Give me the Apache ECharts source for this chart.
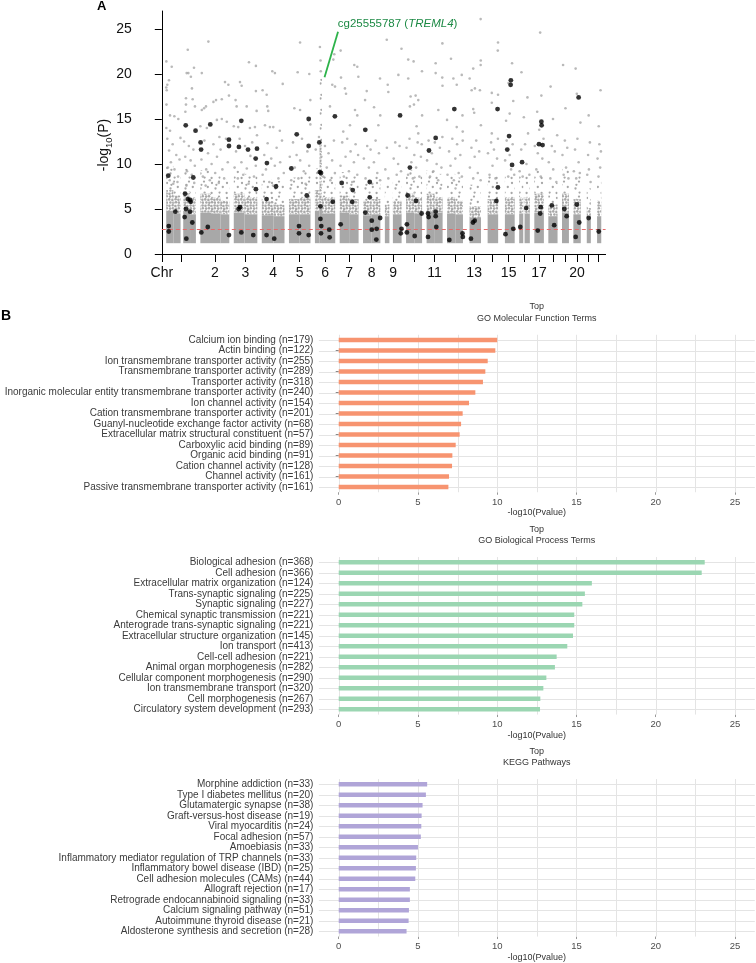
<!DOCTYPE html>
<html>
<head>
<meta charset="utf-8">
<script src="https://cdn.jsdelivr.net/npm/echarts@6/dist/echarts.min.js"></script>
<style>
  html, body { margin: 0; padding: 0; background: #fff; }
  #chart { width: 756px; height: 963px; }
</style>
</head>
<body>
<div id="chart"></div>
<script>
// ---- panel A: manhattan plot ----
// hg19 autosome lengths (Mb)
const chrLengths = [249.25, 243.2, 198.0, 191.15, 180.9, 171.1, 159.1, 146.4, 141.2, 135.5, 135.0,
  133.85, 115.2, 107.35, 102.5, 90.35, 81.2, 78.1, 59.1, 63.0, 48.1, 51.3];
const chrTickText = ['', '2', '3', '4', '5', '6', '7', '8', '9', '', '11', '', '13', '', '15', '', '17', '', '', '20', '', ''];
const chrGap = 36;
const yTicks = [0, 5, 10, 15, 20, 25];
const pFloor = 1.2;
const fdrCut = 2.75;

// dense cloud of probes: [chr, fromMb, toMb, solidTop, denseTop, sparseTop]
const denseBands = [
  [1, 1, 60, 4.8, 7.1, 9.8], [1, 60, 121, 4.5, 6.5, 8.9], [1, 143, 200, 4.8, 6.9, 9.5], [1, 200, 249, 4.4, 6.3, 8.7],
  [2, 1, 90, 4.6, 6.7, 9.3], [2, 90, 170, 4.5, 6.3, 8.7], [2, 170, 243, 4.4, 5.9, 8.3],
  [3, 1, 90, 4.6, 6.7, 9.3], [3, 90, 198, 4.4, 6.3, 8.9],
  [4, 1, 100, 4.3, 5.9, 8.3], [4, 100, 191, 4.2, 5.5, 8.1],
  [5, 1, 90, 4.4, 6.1, 8.5], [5, 90, 181, 4.4, 6.3, 9.1],
  [6, 1, 40, 4.8, 7.1, 9.5], [6, 40, 60, 5.2, 12.5, 19.5], [6, 60, 171, 4.5, 6.3, 8.9],
  [7, 1, 80, 4.6, 6.5, 9.1], [7, 80, 159, 4.4, 6.1, 8.7],
  [8, 1, 70, 4.3, 5.9, 8.3], [8, 70, 146, 4.4, 6.1, 8.7],
  [9, 1, 39, 4.2, 5.5, 7.9], [9, 68, 141, 4.4, 5.9, 8.3],
  [10, 1, 70, 4.6, 6.7, 9.3], [10, 70, 135, 4.5, 6.3, 8.9],
  [11, 1, 70, 4.7, 6.7, 9.3], [11, 70, 135, 4.6, 6.3, 8.9],
  [12, 1, 70, 4.5, 6.3, 8.9], [12, 70, 134, 4.4, 5.9, 8.5],
  [13, 19, 115, 4.0, 5.3, 7.7],
  [14, 19, 107, 4.4, 6.1, 8.7],
  [15, 20, 102, 4.4, 6.3, 8.9],
  [16, 1, 35, 4.5, 6.3, 8.7], [16, 46, 90, 4.5, 6.3, 8.9],
  [17, 1, 81, 4.6, 6.7, 9.3],
  [18, 1, 78, 4.2, 5.5, 7.9],
  [19, 1, 59, 4.6, 6.7, 9.5],
  [20, 1, 63, 4.4, 6.1, 8.7],
  [21, 14, 48, 3.8, 5.1, 7.3],
  [22, 16, 51, 4.2, 5.9, 8.3]
];

// scattered probes above the cloud: [chr, posMb, -log10 P]
const grayHits = [
  [1,2,21.4],[1,47,20.8],[1,172,20.1],[1,186,20.1],[1,233,20.7],[1,181,22.7],[1,24,19.3],[1,1,18.5],[1,5,18.2],[1,10,18.8],
  [1,207,19.7],[1,216,18.4],[1,3,16.6],[1,166,17.3],[1,166,16.6],[1,161,15.8],[1,222,17.2],[1,241,16.4],[1,69,15.3],[1,33,15.4],
  [1,102,15.0],[1,2,14.0],[1,33,13.7],[1,10,12.8],[1,25,11.5],[1,40,10.2],[1,55,12.2],[1,70,9.4],[1,85,11.0],[1,100,8.6],
  [1,112,10.5],[1,150,12.5],[1,160,10.8],[1,175,9.2],[1,190,12.0],[1,205,10.4],[1,215,8.8],[1,228,11.6],[1,240,9.8],[1,30,8.2],
  [1,60,7.8],[1,95,8.0],[1,170,7.6],[1,235,7.9],[1,15,9.6],[1,120,12.9],
  [2,68,23.6],[2,13,20.1],[2,207,19.1],[2,235,18.8],[2,13,16.0],[2,32,16.2],[2,48,16.4],[2,110,16.9],[2,132,17.1],[2,180,17.2],
  [2,240,17.6],[2,1,14.2],[2,55,14.0],[2,139,14.9],[2,180,15.0],[2,222,14.7],[2,10,10.5],[2,22,8.6],[2,35,12.6],[2,50,9.4],
  [2,65,11.2],[2,80,8.2],[2,95,10.0],[2,110,12.2],[2,125,9.0],[2,140,10.8],[2,155,7.9],[2,170,11.6],[2,185,9.4],[2,200,8.4],
  [2,215,12.8],[2,230,10.2],[2,45,7.6],[2,160,13.0],
  [3,128,21.3],[3,186,20.9],[3,53,19.1],[3,67,18.7],[3,186,18.1],[3,16,17.1],[3,25,16.4],[3,109,16.4],[3,192,15.9],[3,1,14.2],
  [3,38,14.1],[3,136,14.0],[3,178,14.1],[3,8,9.6],[3,20,11.4],[3,35,8.4],[3,50,12.8],[3,65,10.2],[3,80,8.8],[3,95,12.0],
  [3,110,9.5],[3,125,7.8],[3,140,10.9],[3,155,12.4],[3,170,8.6],[3,185,9.8],[3,195,13.2],
  [4,89,20.3],[4,111,20.1],[4,8,18.2],[4,42,17.7],[4,47,16.4],[4,55,15.9],[4,28,14.3],[4,69,14.1],[4,176,18.9],[4,97,14.1],
  [4,152,13.7],[4,8,8.8],[4,22,11.0],[4,36,9.4],[4,50,12.3],[4,64,8.0],[4,80,10.6],[4,95,7.6],[4,110,9.8],[4,125,11.8],
  [4,140,8.4],[4,155,10.2],[4,170,12.6],[4,185,9.0],
  [5,94,23.5],[5,74,20.2],[5,171,20.0],[5,46,16.2],[5,94,16.0],[5,180,17.1],[5,180,14.4],[5,8,10.8],[5,20,8.2],[5,35,12.4],
  [5,50,9.6],[5,65,11.0],[5,80,8.4],[5,95,10.4],[5,110,12.8],[5,125,9.2],[5,140,7.8],[5,155,11.4],[5,170,9.8],
  [6,43,23.0],[6,163,22.2],[6,155,21.6],[6,146,18.8],[6,169,18.6],[6,127,16.4],[6,8,11.6],[6,20,9.0],[6,35,13.0],[6,48,21.5],
  [6,50,20.3],[6,55,10.8],[6,70,8.6],[6,85,12.0],[6,100,9.6],[6,115,11.2],[6,130,8.2],[6,145,10.4],[6,160,12.6],[6,168,9.0],
  [7,9,22.6],[7,123,21.0],[7,148,20.8],[7,12,19.6],[7,157,19.7],[7,45,18.4],[7,54,17.8],[7,129,16.0],[7,148,15.4],[7,31,13.6],
  [7,87,14.3],[7,8,9.8],[7,22,12.4],[7,36,8.6],[7,50,10.8],[7,64,12.8],[7,78,9.2],[7,92,11.4],[7,106,8.0],[7,120,10.2],
  [7,134,12.2],[7,148,8.8],[7,155,11.0],
  [8,143,19.5],[8,32,18.1],[8,18,17.1],[8,93,16.3],[8,145,15.4],[8,129,14.3],[8,8,10.6],[8,22,8.4],[8,36,12.0],[8,50,9.6],
  [8,64,11.6],[8,78,7.8],[8,92,10.2],[8,106,12.6],[8,120,9.0],[8,134,11.2],[8,144,8.2],
  [9,17,23.8],[9,140,22.8],[9,25,18.8],[9,114,19.9],[9,30,18.0],[9,5,9.4],[9,18,11.8],[9,30,8.4],[9,75,10.6],[9,88,12.4],
  [9,100,8.8],[9,112,10.0],[9,124,12.0],[9,136,9.2],
  [10,19,21.6],[10,64,21.4],[10,19,19.5],[10,134,20.3],[10,39,17.5],[10,81,17.6],[10,33,16.4],[10,67,16.6],[10,103,17.1],[10,135,15.4],
  [10,89,14.2],[10,103,13.4],[10,5,11.8],[10,18,8.8],[10,30,12.8],[10,45,10.2],[10,58,8.4],[10,70,11.0],[10,85,9.6],[10,98,12.4],
  [10,112,8.6],[10,125,10.8],[10,132,12.2],
  [11,133,23.4],[11,77,21.2],[11,77,20.1],[11,132,19.6],[11,134,18.7],[11,99,16.0],[11,5,10.4],[11,18,12.6],[11,30,8.6],[11,45,11.2],
  [11,58,9.2],[11,70,12.4],[11,85,10.0],[11,98,8.2],[11,112,11.8],[11,125,9.6],[11,133,13.0],
  [12,34,21.7],[12,54,19.5],[12,124,19.9],[12,82,18.8],[12,1,14.9],[12,130,15.4],[12,82,14.1],[12,132,13.6],[12,5,8.8],[12,18,11.4],
  [12,30,9.8],[12,45,12.8],[12,58,8.2],[12,70,10.6],[12,85,12.2],[12,98,9.0],[12,112,11.0],[12,125,8.6],[12,132,12.6],
  [13,112,26.1],[13,113,21.5],[13,50,20.6],[13,112,21.0],[13,20,19.5],[13,37,18.2],[13,64,18.4],[13,106,18.2],[13,50,16.1],[13,58,15.7],
  [13,114,14.3],[13,22,9.6],[13,35,11.8],[13,50,8.4],[13,62,10.8],[13,75,12.6],[13,88,9.0],[13,100,11.4],[13,112,8.2],
  [14,106,23.5],[14,104,22.6],[14,54,17.9],[14,106,17.7],[14,54,16.8],[14,54,13.4],[14,22,11.2],[14,35,8.8],[14,48,12.4],[14,60,9.8],
  [14,72,11.6],[14,85,8.4],[14,98,10.6],[14,105,12.8],
  [15,22,10.4],[15,35,12.6],[15,48,8.6],[15,60,11.0],[15,72,9.4],[15,85,12.2],[15,98,8.8],[15,30,14.8],[15,60,15.6],[15,90,17.0],
  [15,50,19.0],[15,80,21.2],
  [16,5,9.2],[16,18,11.6],[16,30,8.6],[16,50,12.2],[16,62,10.0],[16,75,13.4],[16,86,8.8],[16,40,15.2],[16,70,17.4],[16,20,20.2],
  [17,5,12.0],[17,18,9.4],[17,30,11.2],[17,42,13.8],[17,55,8.6],[17,68,10.6],[17,78,12.8],[17,25,15.8],[17,60,17.6],[17,50,24.6],
  [18,5,10.2],[18,18,8.4],[18,30,12.0],[18,42,9.4],[18,55,11.4],[18,68,8.0],[18,75,13.2],[18,40,15.0],[18,20,18.6],
  [19,5,11.0],[19,15,8.8],[19,25,12.6],[19,35,9.6],[19,45,11.8],[19,55,8.4],[19,30,16.2],[19,10,21.0],
  [20,5,9.2],[20,15,11.6],[20,25,8.4],[20,35,12.8],[20,45,10.2],[20,55,9.0],[20,60,14.6],[20,30,17.8],[20,20,20.6],
  [21,18,8.8],[21,25,11.0],[21,32,9.4],[21,40,12.4],[21,46,8.0],[21,30,15.4],
  [22,20,10.6],[22,28,8.6],[22,35,12.2],[22,42,9.6],[22,48,11.4],[22,30,14.2],[22,45,18.2]
];

// highlighted (black) probes: [chr, posMb, -log10 P]
const sigHits = [
  [1,18,8.7],[1,77,4.7],[1,22,3.1],[1,22,2.5],[1,158,6.7],[1,181,6.1],[1,200,6.0],[1,206,5.8],[1,166,5.0],[1,200,4.7],
  [1,155,4.1],[1,219,3.5],[1,169,1.7],[1,227,8.5],[1,246,13.7],[1,164,14.3],
  [2,3,12.4],[2,7,11.6],[2,9,2.4],[2,63,3.0],[2,84,14.4],[2,240,12.7],[2,240,12.0],[2,240,2.1],
  [3,44,11.9],[3,42,5.0],[3,53,5.2],[3,64,2.4],[3,64,14.8],[3,120,11.6],[3,164,2.1],[3,184,10.6],[3,186,7.2],[3,195,11.7],
  [4,41,6.1],[4,41,2.1],[4,44,10.1],[4,105,1.7],[4,120,7.5],
  [5,21,9.5],[5,66,13.3],[5,85,3.1],[5,85,2.3],[5,150,6.5],[5,166,12.0],[5,166,15.0],[5,166,2.1],
  [6,38,12.4],[6,42,9.1],[6,52,9.0],[6,47,5.3],[6,47,3.9],[6,54,3.1],[6,52,2.3],[6,121,2.7],[6,124,1.85],[6,150,5.8],[6,168,15.3],
  [7,18,7.9],[7,9,3.3],[7,110,7.1],[7,106,5.8],
  [8,20,13.8],[8,57,8.0],[8,57,6.3],[8,20,4.6],[8,74,3.7],[8,74,2.7],[8,115,2.8],[8,112,1.6],[8,144,4.0],
  [9,128,15.4],[9,134,2.3],[9,140,2.8],
  [10,8,3.3],[10,8,2.4],[10,14,6.5],[10,33,9.6],[10,84,5.9],[10,73,2.0],[10,131,4.5],
  [11,13,4.5],[11,18,4.1],[11,13,1.9],[11,21,11.5],[11,77,4.7],[11,77,4.2],[11,82,3.0],[11,77,12.9],
  [12,20,1.56],[12,62,16.1],[12,130,2.3],[12,133,1.9],
  [13,31,1.7],[13,48,3.5],[13,62,3.7],
  [14,92,5.9],[14,105,7.4],[14,102,16.1],
  [15,70,19.3],[15,68,18.8],[15,40,11.6],[15,80,9.9],[15,55,13.1],[15,25,2.2],[15,90,2.8],
  [16,25,10.2],[16,60,5.1],[16,10,3.0],
  [17,60,14.7],[17,62,14.3],[17,40,12.2],[17,70,12.1],[17,55,5.2],[17,50,4.5],[17,30,2.6],
  [18,30,5.4],[18,50,3.2],
  [19,20,5.0],[19,40,4.2],
  [20,45,17.4],[20,30,5.5],[20,50,3.5],[20,20,1.9],
  [21,30,4.0],
  [22,30,2.5]
];
const topHit = [6, 48, 19.3];
const topHitText = 'cg25555787 ({it|TREML4})';

// ---- panel B: enrichment bars ----
const xTicks = [0, 5, 10, 15, 20, 25];
const xGridSteps = [0, 2.5, 5, 7.5, 10, 12.5, 15, 17.5, 20, 22.5, 25];
const mfTerms = ['Calcium ion binding (n=179)', 'Actin binding (n=122)', 'Ion transmembrane transporter activity (n=255)',
  'Transmembrane transporter activity (n=289)', 'Transporter activity (n=318)',
  'Inorganic molecular entity transmembrane transporter activity (n=240)', 'Ion channel activity (n=154)',
  'Cation transmembrane transporter activity (n=201)', 'Guanyl-nucleotide exchange factor activity (n=68)',
  'Extracellular matrix structural constituent (n=57)', 'Carboxylic acid binding (n=89)', 'Organic acid binding (n=91)',
  'Cation channel activity (n=128)', 'Channel activity (n=161)', 'Passive transmembrane transporter activity (n=161)'];
const mfValues = [10.0, 9.88, 9.40, 9.25, 9.10, 8.62, 8.22, 7.82, 7.72, 7.63, 7.38, 7.17, 7.15, 6.96, 6.92];
const bpTerms = ['Biological adhesion (n=368)', 'Cell adhesion (n=366)', 'Extracellular matrix organization (n=124)',
  'Trans-synaptic signaling (n=225)', 'Synaptic signaling (n=227)', 'Chemical synaptic transmission (n=221)',
  'Anterograde trans-synaptic signaling (n=221)', 'Extracellular structure organization (n=145)', 'Ion transport (n=413)',
  'Cell-cell adhesion (n=221)', 'Animal organ morphogenesis (n=282)', 'Cellular component morphogenesis (n=290)',
  'Ion transmembrane transport (n=320)', 'Cell morphogenesis (n=267)', 'Circulatory system development (n=293)'];
const bpValues = [23.09, 22.90, 15.97, 15.53, 15.37, 14.86, 14.86, 14.78, 14.42, 13.75, 13.64, 13.10, 12.91, 12.72, 12.70];
const keggTerms = ['Morphine addiction (n=33)', 'Type I diabetes mellitus (n=20)', 'Glutamatergic synapse (n=38)',
  'Graft-versus-host disease (n=19)', 'Viral myocarditis (n=24)', 'Focal adhesion (n=57)', 'Amoebiasis (n=33)',
  'Inflammatory mediator regulation of TRP channels (n=33)', 'Inflammatory bowel disease (IBD) (n=25)',
  'Cell adhesion molecules (CAMs) (n=44)', 'Allograft rejection (n=17)', 'Retrograde endocannabinoid signaling (n=33)',
  'Calcium signaling pathway (n=51)', 'Autoimmune thyroid disease (n=21)', 'Aldosterone synthesis and secretion (n=28)'];
const keggValues = [5.58, 5.50, 5.29, 5.23, 5.21, 5.18, 5.00, 4.89, 4.87, 4.83, 4.49, 4.49, 4.43, 4.41, 4.28];

const font = 'Liberation Sans, Arial, Helvetica, sans-serif';
const dotGray = '#a8a8a8';
const gridGray = '#e4e4e4';

// cumulative genome coordinates
const chrStart = [];
let acc = chrGap;
chrLengths.forEach(len => { chrStart.push(acc); acc += len + chrGap; });
const genomeEnd = acc;
const chrMid = chrStart.map((s, i) => s + chrLengths[i] / 2);
const gpos = (chr, pos) => chrStart[chr - 1] + pos;

const pxPerMb = 0.11966;
const chrLabelValues = [0].concat(chrMid.filter((m, i) => chrTickText[i] !== ''));

// speckle textures so the crowded part reads as a cloud of dots
function dotTile(w, h, r, dots) {
  const c = document.createElement('canvas');
  c.width = w; c.height = h;
  const ctx = c.getContext('2d');
  ctx.fillStyle = dotGray;
  dots.forEach(d => { ctx.beginPath(); ctx.arc(d[0], d[1], r, 0, Math.PI * 2); ctx.fill(); });
  return { image: c, repeat: 'repeat' };
}
const denseSpeckle = dotTile(12, 12, 1.3, [
  [1.5, 1.8], [4.8, 1.3], [7.4, 2.0], [10.6, 1.5],
  [2.1, 4.6], [5.0, 4.2], [8.2, 4.9], [10.9, 4.3],
  [1.3, 7.4], [4.4, 7.9], [7.6, 7.2], [10.4, 7.8],
  [2.4, 10.5], [5.3, 10.7], [8.0, 10.2], [10.9, 10.6]
]);
const sparseSpeckle = dotTile(15, 15, 1.15, [
  [2, 3], [9, 1.6], [12.8, 7], [5.5, 8.5], [1.6, 13], [9.6, 12.6], [6.4, 4.8]
]);

function bandRenderer(fill) {
  return function (params, api) {
    const p0 = api.coord([api.value(0), api.value(3)]);
    const p1 = api.coord([api.value(1), api.value(2)]);
    return {
      type: 'rect',
      shape: { x: p0[0], y: p0[1], width: p1[0] - p0[0], height: p1[1] - p0[1] },
      style: { fill: fill }
    };
  };
}
function bandSeries(fill, lo, hi) {
  return {
    type: 'custom', xAxisIndex: 0, yAxisIndex: 0, silent: true, z: 1,
    renderItem: bandRenderer(fill), encode: { x: [0, 1], y: [2, 3] },
    data: denseBands.map(b => [gpos(b[0], b[1]), gpos(b[0], b[2]), lo(b), hi(b)])
  };
}

// panel grid lines: vertical at each x step, horizontal through each bar row
function gridLines(g, yIdx, vertical, data) {
  return {
    type: 'custom', xAxisIndex: g, yAxisIndex: yIdx, silent: true, z: 1,
    encode: { x: 0, y: 1 }, data: data,
    renderItem: (params, api) => {
      const cs = params.coordSys;
      const p = api.coord([api.value(0), api.value(1)]);
      const shape = vertical
        ? { x1: Math.round(p[0]) + 0.5, y1: cs.y, x2: Math.round(p[0]) + 0.5, y2: cs.y + cs.height }
        : { x1: cs.x, y1: Math.round(p[1]) + 0.5, x2: cs.x + cs.width, y2: Math.round(p[1]) + 0.5 };
      return { type: 'line', shape: shape, style: { stroke: gridGray, lineWidth: 1 } };
    }
  };
}

const grids = [{ left: 161.8, top: 11, width: genomeEnd * pxPerMb, height: 243 }];
const xAxes = [{
  gridIndex: 0, type: 'value', min: 0, max: genomeEnd, offset: 1,
  axisLine: { lineStyle: { color: '#000', width: 1 } },
  axisTick: { show: true, length: 8, lineStyle: { color: '#000' }, customValues: [0].concat(chrMid) },
  axisLabel: {
    customValues: chrLabelValues, fontSize: 14, color: '#111', margin: 11, fontFamily: font,
    formatter: v => (v === 0 ? 'Chr' : chrTickText[chrMid.indexOf(v)])
  },
  splitLine: { show: false }
}];
const yAxes = [{
  gridIndex: 0, type: 'value', min: 0, max: 27, offset: 19,
  axisLine: { show: true, lineStyle: { color: '#000', width: 1 } },
  axisTick: { show: true, length: 7, lineStyle: { color: '#000' }, customValues: yTicks },
  axisLabel: { customValues: yTicks, fontSize: 14, color: '#111', margin: 11, fontFamily: font },
  splitLine: { show: false }
}];
const series = [
  bandSeries(sparseSpeckle, b => b[4], b => b[5]),
  bandSeries(denseSpeckle, b => b[3], b => b[4]),
  bandSeries(dotGray, () => pFloor, b => b[3]),
  {
    type: 'scatter', xAxisIndex: 0, yAxisIndex: 0, silent: true, z: 2,
    symbolSize: 2.6, itemStyle: { color: dotGray },
    data: grayHits.map(h => [gpos(h[0], h[1]), h[2]]),
    markLine: {
      silent: true, symbol: 'none', label: { show: false },
      lineStyle: { color: '#e46a6a', type: [4, 3], width: 1 },
      data: [{ yAxis: fdrCut }]
    }
  },
  {
    type: 'scatter', xAxisIndex: 0, yAxisIndex: 0, silent: true, z: 10,
    symbolSize: 4.8, itemStyle: { color: '#000' },
    data: sigHits.map(h => [gpos(h[0], h[1]), h[2]])
  }
];

const panels = [
  { terms: mfTerms, values: mfValues, color: '#F79470', title: 'Top\nGO Molecular Function Terms', firstRow: 340 },
  { terms: bpTerms, values: bpValues, color: '#9BD6B2', title: 'Top\nGO Biological Process Terms', firstRow: 562.3 },
  { terms: keggTerms, values: keggValues, color: '#B0A5D8', title: 'Top\nKEGG Pathways', firstRow: 784.3 }
];
const rowStep = 10.5;
const graphics = [
  { type: 'text', left: 97, top: 0, style: { text: 'A', font: 'bold 13px ' + font, fill: '#000' } },
  { type: 'text', left: 1, top: 309, style: { text: 'B', font: 'bold 14px ' + font, fill: '#000' } },
  {
    type: 'text', x: 104, y: 145, rotation: Math.PI / 2,
    style: {
      text: '-log{s|10}(P)', fontSize: 14, fontFamily: font, fill: '#111', lineHeight: 20,
      align: 'center', verticalAlign: 'middle',
      rich: { s: { fontSize: 9.5, fontFamily: font, fill: '#111', lineHeight: 8, verticalAlign: 'bottom' } }
    }
  }
];

panels.forEach((p, i) => {
  const g = i + 1;
  const n = p.terms.length;
  grids.push({ left: 318.9, width: 435.9, top: p.firstRow - rowStep / 2, height: rowStep * n });
  xAxes.push({
    gridIndex: g, type: 'value', min: -1.25, max: 26.25,
    axisLine: { show: false },
    axisTick: { show: true, length: 2.5, lineStyle: { color: '#999' }, customValues: xTicks },
    axisLabel: {
      customValues: xTicks, fontSize: 9.5, color: '#4d4d4d', margin: 5, fontFamily: font,
      formatter: v => (v % 5 === 0 ? String(v) : '')
    },
    splitLine: { show: false },
    name: '-log10(Pvalue)', nameLocation: 'middle', nameGap: 16,
    nameTextStyle: { fontSize: 9, color: '#333', fontFamily: font }
  });
  yAxes.push({
    gridIndex: g, type: 'category', inverse: true, data: p.terms,
    axisLine: { show: false },
    axisTick: { show: true, length: 3, alignWithLabel: true, lineStyle: { color: '#888' } },
    axisLabel: { fontSize: 10, color: '#3b3b3b', margin: 5.5, fontFamily: font, interval: 0 },
    splitLine: { show: false }
  });
  const yIdx = yAxes.length - 1;
  series.push(
    gridLines(g, yIdx, true, xGridSteps.map(v => [v, 0])),
    gridLines(g, yIdx, false, p.terms.map((t, k) => [0, k])),
    {
      type: 'bar', xAxisIndex: g, yAxisIndex: yIdx, silent: true, z: 3,
      barWidth: 4.5, itemStyle: { color: p.color }, data: p.values
    }
  );
  graphics.push({
    type: 'text', x: 536.8, y: p.firstRow - 38.85,
    style: {
      text: p.title, fontSize: 9, lineHeight: 11.7, fontFamily: font, fill: '#333',
      align: 'center', verticalAlign: 'top'
    }
  });
});

const chart = echarts.init(document.getElementById('chart'), null, { renderer: 'canvas' });
chart.setOption({
  animation: false,
  backgroundColor: '#fff',
  textStyle: { fontFamily: font },
  grid: grids,
  xAxis: xAxes,
  yAxis: yAxes,
  series: series,
  graphic: graphics
});

// label for the top probe, anchored on its plotted point
const hitPx = chart.convertToPixel({ gridIndex: 0 }, [gpos(topHit[0], topHit[1]), topHit[2]]);
graphics.push(
  {
    type: 'line', shape: { x1: hitPx[0] + 4, y1: hitPx[1] - 3, x2: hitPx[0] + 17.5, y2: hitPx[1] - 48.5 },
    style: { stroke: '#2db34a', lineWidth: 1.8 }
  },
  {
    type: 'text', x: hitPx[0] + 17.3, y: hitPx[1] - 56.7,
    style: {
      text: topHitText, fontSize: 11.5, fontFamily: font, fill: '#1d8a45', verticalAlign: 'middle',
      rich: { it: { fontStyle: 'italic', fontSize: 11.5, fontFamily: font, fill: '#1d8a45' } }
    }
  }
);
chart.setOption({ graphic: graphics });
</script>
</body>
</html>
